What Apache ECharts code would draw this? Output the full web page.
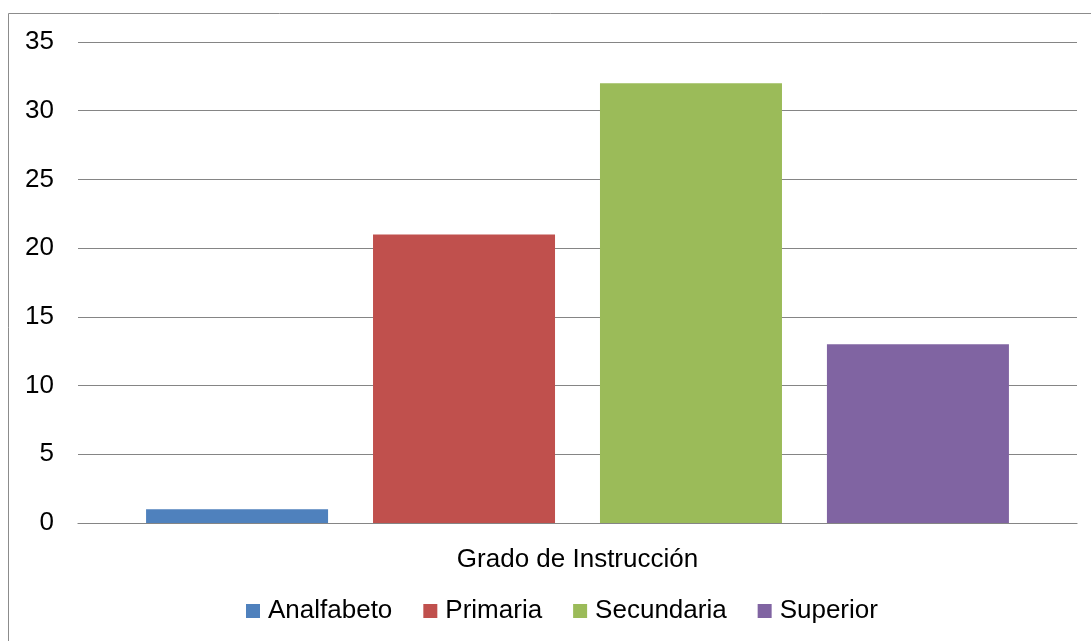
<!DOCTYPE html>
<html>
<head>
<meta charset="utf-8">
<script src="https://cdn.jsdelivr.net/npm/echarts@6/dist/echarts.min.js"></script>
<style>
  html, body { margin: 0; padding: 0; background: #fff; }
  #chart { width: 1091px; height: 641px; }
</style>
</head>
<body>
<div id="chart"></div>
<script>
// Education level counts (single category, one series per level)
const category = ['Grado de Instrucción'];
const seriesNames = ['Analfabeto', 'Primaria', 'Secundaria', 'Superior'];
const seriesValues = [1, 21, 32, 13];
const seriesColors = ['#4F81BD', '#C0504D', '#9BBB59', '#8064A2'];

const FONT = 'Liberation Sans, Arial, sans-serif';

const chart = echarts.init(document.getElementById('chart'), null, { renderer: 'canvas' });

chart.setOption({
  backgroundColor: '#ffffff',
  animation: false,
  graphic: [
    {
      type: 'polyline',
      silent: true,
      shape: { points: [[8.5, 700], [8.5, 13.5], [1200, 13.5]] },
      style: { stroke: '#8c8c8c', lineWidth: 1, fill: null }
    }
  ],
  grid: { left: 78, right: 14, top: 42, bottom: 118, containLabel: false },
  legend: {
    left: 246,
    top: 598,
    padding: 0,
    itemWidth: 14,
    itemHeight: 14,
    itemGap: 31,
    icon: 'rect',
    data: seriesNames,
    textStyle: { fontFamily: FONT, fontSize: 26, color: '#000', padding: [0, 0, 0, 3] }
  },
  xAxis: {
    type: 'category',
    data: category,
    axisLine: { show: true, lineStyle: { color: '#858585', width: 1.2 } },
    axisTick: { show: false },
    axisLabel: { fontFamily: FONT, fontSize: 26, color: '#000', margin: 24 }
  },
  yAxis: {
    type: 'value',
    min: 0,
    max: 35,
    interval: 5,
    axisLine: { show: false },
    axisTick: { show: false },
    splitLine: { show: true, lineStyle: { color: '#858585', width: 1.2 } },
    axisLabel: { fontFamily: FONT, fontSize: 26, color: '#000', margin: 24 }
  },
  series: seriesNames.map((name, i) => ({
    name: name,
    type: 'bar',
    data: [seriesValues[i]],
    barWidth: 182,
    barGap: '24.7%',
    itemStyle: { color: seriesColors[i] }
  }))
});
</script>
</body>
</html>
